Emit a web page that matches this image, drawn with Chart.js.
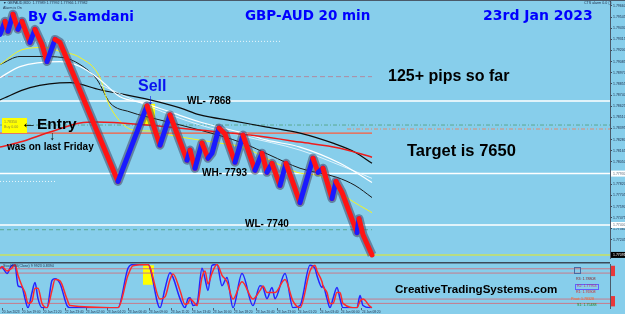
<!DOCTYPE html>
<html>
<head>
<meta charset="utf-8">
<script src="https://cdn.jsdelivr.net/npm/chart.js"></script>
<style>
  html, body { margin:0; padding:0; }
  body { width:625px; height:314px; overflow:hidden; background:#87ceeb; position:relative; font-family:'Liberation Sans', Arial, sans-serif; }
  canvas { position:absolute; left:0; }
  #mainChart { top:-4px; }
  #oscChart { top:261px; }
  .t { position:absolute; white-space:nowrap; line-height:1; font-weight:bold; color:#000; }
  .blue { color:#0000ff; font-family:'DejaVu Sans', Verdana, sans-serif; }
  .tiny { position:absolute; white-space:nowrap; line-height:1; font-size:3.6px; color:#1c2c48; }
  .frame { position:absolute; background:#4a5a6a; }
</style>
</head>
<body>
<canvas id="mainChart" width="625" height="266"></canvas>
<canvas id="oscChart" width="625" height="53"></canvas>

<div class="frame" style="left:0;top:0;width:625px;height:1px"></div>

<div class="tiny" style="left:3px;top:2px">▼ GBPAUD,M20 &nbsp;1.77989 1.77992 1.77966 1.77982</div>
<div class="tiny" style="left:3px;top:7px">Alarm is On</div>
<div class="tiny" style="left:584px;top:2px">CTS alarm 0.0 ▢</div>

<div class="t blue" style="left:28px;top:9.6px;font-size:13.5px">By G.Samdani</div>
<div class="t blue" style="left:245px;top:8.6px;font-size:13.5px">GBP-AUD 20 min</div>
<div class="t blue" style="left:483px;top:8.2px;font-size:14px">23rd Jan 2023</div>

<div class="t" style="left:388px;top:67.5px;font-size:16px">125+ pips so far</div>
<div class="t" style="left:407px;top:142px;font-size:16.5px">Target is 7650</div>

<div class="t" style="left:138px;top:77.5px;font-size:16px;color:#0a14f0">Sell</div>
<div class="t" style="left:147px;top:92px;font-size:14px;color:#0a14f0">↓</div>

<div class="t" style="left:187px;top:95.5px;font-size:10px">WL- 7868</div>
<div class="t" style="left:202px;top:167.5px;font-size:10px">WH- 7793</div>
<div class="t" style="left:245px;top:218.5px;font-size:10px">WL- 7740</div>

<div style="position:absolute;left:2px;top:118px;width:25px;height:15px;background:#ffff00"></div>
<div class="tiny" style="left:4px;top:121px;color:#8a8a40">1.78350</div>
<div class="tiny" style="left:4px;top:126px;color:#8a8a40">Buy 0.00</div>
<div class="t" style="left:21px;top:115px;font-size:16px">←</div>
<div class="t" style="left:37px;top:116.4px;font-size:15.5px">Entry</div>
<div class="t" style="left:49px;top:130px;font-size:12px">↓</div>
<div class="t" style="left:7px;top:141.5px;font-size:10px">was on last Friday</div>

<div class="tiny" style="left:3px;top:265px">StochRSI(Close) 9 9923 0.8394</div>
<div class="t" style="left:395px;top:283.2px;font-size:11.6px">CreativeTradingSystems.com</div>

<div style="position:absolute;left:574px;top:267px;width:5px;height:5px;border:1px solid #4a6aa0"></div>
<div class="tiny" style="left:582px;top:271px;color:#a8bccc">Levels</div>
<div class="tiny" style="left:576px;top:277.5px;color:#8b1a1a">R3: 1.78808</div>
<div class="tiny" style="left:575px;top:284px;color:#c03060;border:1px solid #6060ff;padding:0 1px">R2: 1.77953</div>
<div class="tiny" style="left:576px;top:291px;color:#d02020">R1: 1.76908</div>
<div class="tiny" style="left:571px;top:297.5px;color:#ff6020">Pivot: 1.78328</div>
<div class="tiny" style="left:577px;top:303.5px;color:#208020">S1: 1.75488</div>

<script>
// price path (renko closes), x = bar position
const priceX = [0,5,8,13,18,22,30,35,42,47,55,60,118,147,160,170,187,190,195,202,208,212,219,225,235,243,255,262,267,272,280,286,300,313,318,323,332,336,342,357,359,363,372];
const priceClose = [1.79366,1.79501,1.79398,1.79574,1.79418,1.79501,1.79283,1.79418,1.79262,1.79086,1.79314,1.79283,1.77849,1.78629,1.78223,1.78535,1.78068,1.78172,1.77985,1.78244,1.78088,1.78140,1.78400,1.78338,1.78047,1.78327,1.77964,1.78140,1.77943,1.78036,1.77808,1.78036,1.77631,1.78088,1.77943,1.77985,1.77673,1.77849,1.77735,1.77320,1.77465,1.77299,1.77091];

// moving averages
const maSlowX = [0,30,70,100,150,180,200,233,267,300,333,355,372];
const maSlow  = [1.78691,1.78816,1.78868,1.78795,1.78691,1.78608,1.78535,1.78473,1.78410,1.78348,1.78244,1.78151,1.78036];
const maFastX = [0,20,40,63,80,97,110,130,160,200,243,270,300,337,355,372];
const maFast  = [1.79055,1.79138,1.79138,1.79127,1.79055,1.78899,1.78660,1.78566,1.78483,1.78379,1.78244,1.78120,1.77985,1.77891,1.77808,1.77683];
const maYellowX = [0,23,45,60,80,100,107,115,133,150,170,200,220,243,270,297,323,347,372];
const maYellow  = [1.79055,1.79211,1.79231,1.79190,1.79127,1.78920,1.78691,1.78535,1.78379,1.78369,1.78327,1.78275,1.78244,1.78203,1.78068,1.77943,1.77891,1.77683,1.77527];
const maWhiteX = [0,20,60,80,100,120,143,170,200,243,267,300,340,372];
const maWhite  = [1.78920,1.79034,1.79086,1.79034,1.78899,1.78722,1.78660,1.78566,1.78462,1.78348,1.78275,1.78203,1.78036,1.77839];
const maWhite2X = [100,150,200,243,300,340,372];
const maWhite2  = [1.78847,1.78618,1.78431,1.78317,1.78172,1.78016,1.77881];
const maRedX = [0,20,50,80,97,147,200,250,300,340,372];
const maRed  = [1.78203,1.78255,1.78359,1.78452,1.78462,1.78431,1.78379,1.78327,1.78255,1.78192,1.78099];

// horizontal levels
const levelPrice = [1.79294,1.78930,1.78680,1.78431,1.78390,1.78348,1.77930,1.77849,1.77400,1.77351,1.77091];
const levelFrom  = [0,0,0,0,347,0,0,0,0,0,0];
const levelTo    = [280,372,610,610,610,372,610,55,610,372,610];

// price axis
const priceTickLabels = ['1.79660','1.79545','1.79430','1.79315','1.79200','1.79085','1.78970','1.78855','1.78740','1.78625','1.78510','1.78395','1.78280','1.78165','1.78050','1.77820','1.77705','1.77590','1.77475','1.77360','1.77245'];
const tagLabels = ['1.77930','1.77400','1.77091'];

// oscillator
const oscX = [0,2,7,12,15,18,22,25,28,32,35,38,42,47,52,55,60,67,70,118,128,133,148,160,165,170,173,180,185,188,190,193,197,202,205,208,212,217,222,227,233,242,253,260,263,267,272,275,285,293,300,310,315,317,322,323,327,330,333,337,340,343,357,360,363,370,372];
const oscBlue = [93,93,79,98,98,51,47,21,0,35,58,21,0,0,63,67,56,5,0,0,91,100,100,0,44,81,70,21,0,21,23,5,9,91,67,40,98,100,51,70,0,79,5,51,47,21,47,21,79,0,5,98,91,74,47,51,21,0,21,47,21,0,0,28,5,0,0];
const oscRed  = [90,95,85,92,99,75,50,35,10,15,45,45,10,0,40,65,62,20,5,0,75,97,100,20,25,65,78,40,8,10,20,15,5,70,85,55,80,100,75,60,20,60,20,40,50,35,35,35,65,15,0,85,98,85,60,50,35,10,10,35,35,10,0,15,20,3,0];
const oscLevels = [90,80,20,10];

// time axis
const timeTickPos = [2,22,43,65,86,107,128,149,171,192,213,234,256,277,298,320,341,362];
const timeLabels = ['20 Jan 2023','20 Jan 19:00','20 Jan 21:20','22 Jan 23:40','23 Jan 02:00','23 Jan 04:20','23 Jan 06:40','23 Jan 09:00','23 Jan 11:20','23 Jan 13:40','23 Jan 16:00','23 Jan 18:20','23 Jan 20:40','23 Jan 23:00','24 Jan 01:20','24 Jan 03:40','24 Jan 06:00','24 Jan 08:20'];

const pts = (xs, ys) => xs.map((x, i) => ({ x: x, y: ys[i] }));

const levelStyle = [
  { c: 'rgba(255,255,255,0.85)', w: 1, d: [1, 2] },
  { c: '#b08aa0', w: 1, d: [5, 3] },
  { c: '#ffffff', w: 1.5, d: [] },
  { c: '#5aa890', w: 1, d: [4, 2, 1, 2] },
  { c: '#e08a70', w: 1, d: [4, 2, 1, 2] },
  { c: '#ff5a3a', w: 1.2, d: [] },
  { c: '#ffffff', w: 1.5, d: [] },
  { c: 'rgba(255,255,255,0.85)', w: 1, d: [1, 2] },
  { c: '#ffffff', w: 1.5, d: [] },
  { c: '#5aa890', w: 1, d: [4, 3] },
  { c: '#c8e060', w: 1.5, d: [] }
];
const tagStyle = [
  { bg: '#ffffff', fg: '#5a6a7a' },
  { bg: '#ffffff', fg: '#5a6a7a' },
  { bg: '#000000', fg: '#ffffff' }
];

const levelSets = levelPrice.map((p, i) => ({
  data: [{ x: levelFrom[i], y: p }, { x: levelTo[i], y: p }],
  borderColor: levelStyle[i].c, borderWidth: levelStyle[i].w, borderDash: levelStyle[i].d,
  order: 10
}));

function ma(xs, ys, color, w) {
  return { data: pts(xs, ys), borderColor: color, borderWidth: w, cubicInterpolationMode: 'monotone', order: 5 };
}

const boxPlugin = {
  id: 'boxes',
  beforeDatasetsDraw(chart, args, opts) {
    const { ctx, scales: { x, y } } = chart;
    ctx.save();
    ctx.fillStyle = '#ffff00';
    (opts.boxes || []).forEach(b => {
      const x0 = x.getPixelForValue(b.x0), x1 = x.getPixelForValue(b.x1);
      const y0 = y.getPixelForValue(b.y0), y1 = y.getPixelForValue(b.y1);
      ctx.fillRect(x0, Math.min(y0, y1), x1 - x0, Math.abs(y1 - y0));
    });
    ctx.restore();
  }
};

const tagPlugin = {
  id: 'tags',
  afterDraw(chart) {
    const { ctx, chartArea, scales: { y } } = chart;
    ctx.save();
    ctx.font = '3.5px "Liberation Sans"';
    ctx.textBaseline = 'middle';
    tagLabels.forEach((t, i) => {
      const py = y.getPixelForValue(parseFloat(t));
      ctx.fillStyle = tagStyle[i].bg;
      ctx.fillRect(chartArea.right + 1, py - 3, 14, 6);
      ctx.fillStyle = tagStyle[i].fg;
      ctx.fillText(t, chartArea.right + 3, py);
    });
    ctx.restore();
  }
};

new Chart(document.getElementById('mainChart'), {
  type: 'line',
  data: {
    datasets: [
      { data: pts(priceX, priceClose), borderWidth: 5, borderCapStyle: 'round', borderJoinStyle: 'round',
        borderColor: '#ff1414',
        segment: { borderColor: c => c.p1.parsed.y >= c.p0.parsed.y ? '#1a1aff' : '#ff1414' },
        order: 1 },
      { data: pts(priceX, priceClose), borderWidth: 9, borderColor: 'rgba(70,70,100,0.55)', borderJoinStyle: 'round', order: 2 },
      ma(maRedX, maRed, '#ee1c1c', 1.5),
      ma(maWhiteX, maWhite, '#ffffff', 1.2),
      ma(maWhite2X, maWhite2, 'rgba(235,248,255,0.85)', 1),
      ma(maYellowX, maYellow, '#f4f420', 1),
      ma(maFastX, maFast, '#1a1a1a', 1),
      ma(maSlowX, maSlow, '#0c0c0c', 1.2),
      ...levelSets
    ]
  },
  options: {
    responsive: false,
    devicePixelRatio: 1,
    animation: false,
    layout: { padding: 0 },
    elements: { point: { radius: 0 }, line: { tension: 0 } },
    plugins: { legend: { display: false }, tooltip: { enabled: false },
      boxes: { boxes: [{ x0: 143, x1: 155, y0: 1.78649, y1: 1.78431 }] } },
    scales: {
      x: { type: 'linear', min: 0, max: 610, display: false },
      y: {
        type: 'linear', position: 'right', min: 1.7705, max: 1.7973,
        afterFit: s => { s.width = 15; },
        afterBuildTicks: s => { s.ticks = priceTickLabels.map(l => ({ value: parseFloat(l) })); },
        grid: { display: true, drawOnChartArea: false, drawTicks: true, tickLength: 2, color: '#3a4a5a' },
        border: { display: true, color: '#4a5a6a', width: 1 },
        ticks: { padding: 1, font: { size: 3.5, family: 'Liberation Sans' }, color: '#1c2c48',
          callback: (v, i) => priceTickLabels[i] }
      }
    }
  },
  plugins: [boxPlugin, tagPlugin]
});

const oscFrame = {
  id: 'oscFrame',
  afterDraw(chart) {
    const { ctx, chartArea, scales: { y } } = chart;
    ctx.save();
    ctx.fillStyle = '#3a4a5a';
    ctx.fillRect(0, chartArea.top - 2, chartArea.right, 1.5);
    ctx.fillStyle = '#e8383a';
    const a = y.getPixelForValue(oscLevels[0]), b = y.getPixelForValue(oscLevels[1]);
    const c = y.getPixelForValue(oscLevels[2]), d = y.getPixelForValue(oscLevels[3]);
    ctx.fillRect(chartArea.right + 1, a - 3, 4, b - a + 6);
    ctx.fillRect(chartArea.right + 1, c - 3, 4, d - c + 6);
    ctx.restore();
  }
};

new Chart(document.getElementById('oscChart'), {
  type: 'line',
  data: {
    datasets: [
      { data: pts(oscX, oscRed), borderColor: '#ff2a2a', borderWidth: 1.5, cubicInterpolationMode: 'monotone', order: 1 },
      { data: pts(oscX, oscBlue), borderColor: '#2424ff', borderWidth: 1.5, cubicInterpolationMode: 'monotone', order: 2 },
      ...oscLevels.map(v => ({ data: [{ x: 0, y: v }, { x: 610, y: v }], borderColor: '#c87a8a', borderWidth: 1, order: 5 }))
    ]
  },
  options: {
    responsive: false,
    devicePixelRatio: 1,
    animation: false,
    layout: { padding: { top: 3 } },
    elements: { point: { radius: 0 } },
    plugins: { legend: { display: false }, tooltip: { enabled: false },
      boxes: { boxes: [{ x0: 143, x1: 154, y0: 98, y1: 53 }] } },
    scales: {
      x: {
        type: 'linear', min: 0, max: 610,
        afterBuildTicks: s => { s.ticks = timeTickPos.map(v => ({ value: v })); },
        grid: { display: true, drawOnChartArea: false, tickLength: 2, color: '#506070' },
        border: { display: false },
        ticks: { padding: 0, autoSkip: false, maxRotation: 0, align: 'start',
          font: { size: 3.2, family: 'Liberation Sans' }, color: '#1c2c48',
          callback: (v, i) => timeLabels[i] }
      },
      y: {
        type: 'linear', position: 'right', min: -1, max: 101,
        afterFit: s => { s.width = 15; },
        grid: { display: false },
        border: { display: true, color: '#4a5a6a' },
        ticks: { display: false }
      }
    }
  },
  plugins: [boxPlugin, oscFrame]
});
</script>
</body>
</html>
